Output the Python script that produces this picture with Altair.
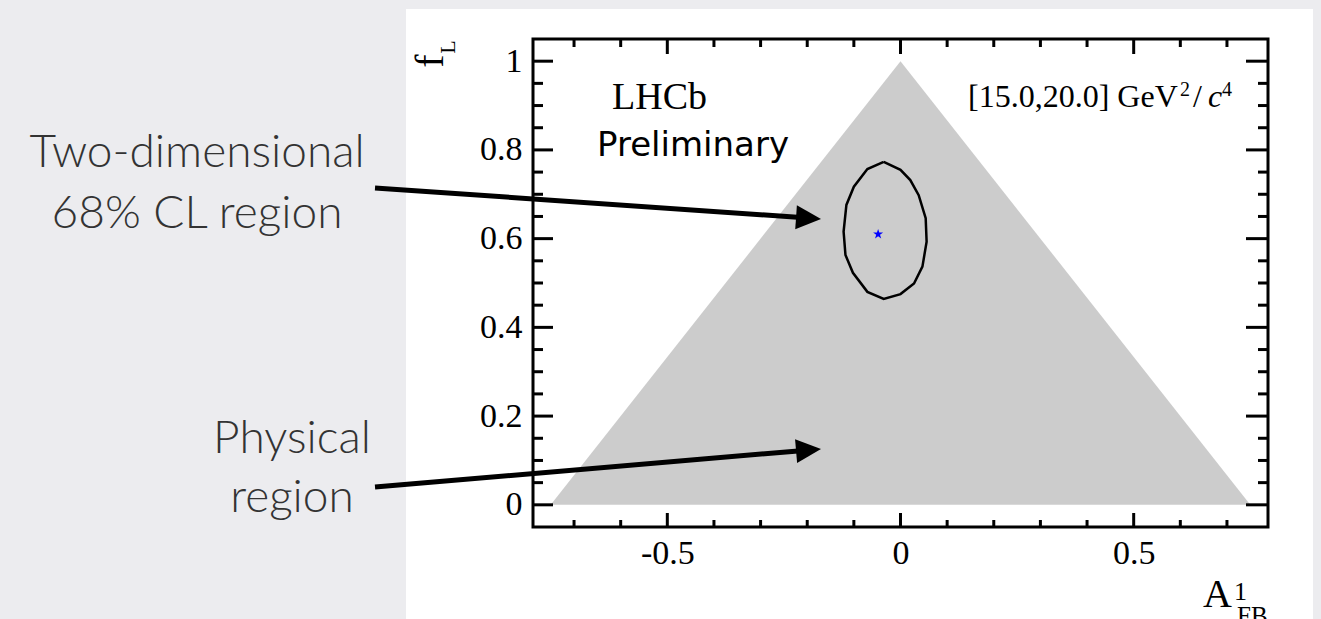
import altair as alt
import pandas as pd

# ---------------- data ----------------
physical_x = [-0.75, 0.0, 0.75]
physical_y = [0.0, 1.0, 0.0]

cl68_x = [-0.036, -0.071, -0.100, -0.116, -0.122, -0.118, -0.102, -0.071, -0.036,
          0.000, 0.029, 0.047, 0.056, 0.054, 0.039, 0.021, 0.000, -0.036]
cl68_y = [0.773, 0.757, 0.717, 0.676, 0.616, 0.563, 0.523, 0.480, 0.464,
          0.475, 0.499, 0.537, 0.593, 0.646, 0.698, 0.732, 0.755, 0.773]

best_x = [-0.048]
best_y = [0.610]

x_labels = [-0.5, 0, 0.5]
x_minor = [-0.7, -0.6, -0.4, -0.3, -0.2, -0.1, 0.1, 0.2, 0.3, 0.4, 0.6, 0.7]
y_labels = [0, 0.2, 0.4, 0.6, 0.8, 1]
y_minor = [0.05, 0.1, 0.15, 0.25, 0.3, 0.35, 0.45, 0.5, 0.55, 0.65, 0.7, 0.75,
           0.85, 0.9, 0.95]

# ---------------- layout ----------------
W, H = 735, 488
SERIF = "Liberation Serif"
SLIDE = "Lato"

x_scale = alt.Scale(domain=[-0.788, 0.788], nice=False, zero=False)
y_scale = alt.Scale(domain=[-0.05, 1.05], nice=False, zero=False)

xaxis = alt.Axis(values=x_labels, labelExpr="'' + datum.value", title=None, ticks=False,
                 domain=False, grid=False, labelFont=SERIF, labelFontSize=34,
                 labelColor="black", labelPadding=9, zindex=2, labelFlush=False,
                 labelOverlap=False)
yaxis = alt.Axis(values=y_labels, labelExpr="'' + datum.value", title=None, ticks=False,
                 domain=False, grid=False, labelFont=SERIF, labelFontSize=34,
                 labelColor="black", labelPadding=11, zindex=2, labelFlush=False,
                 labelOverlap=False)

X = lambda f: alt.X(f, type="quantitative", scale=x_scale, axis=xaxis)
Y = lambda f: alt.Y(f, type="quantitative", scale=y_scale, axis=yaxis)

one = pd.DataFrame({"k": [0]})

phys_df = pd.DataFrame({"x": physical_x, "y": physical_y})
cl_df = pd.DataFrame({"x": cl68_x, "y": cl68_y, "i": list(range(len(cl68_x)))})
best_df = pd.DataFrame({"x": best_x, "y": best_y})

layers = []

# white slide panel behind the figure
layers.append(alt.Chart(one).mark_rect(color="white").encode(
    x=alt.value(-127), x2=alt.value(780), y=alt.value(-30), y2=alt.value(620)))

# physical region
layers.append(alt.Chart(phys_df).mark_area(color="#cccccc", opacity=1).encode(
    x=X("x"), y=Y("y"), y2=alt.datum(0)))

# 68% CL contour
layers.append(alt.Chart(cl_df).mark_line(color="black", strokeWidth=2.5).encode(
    x=X("x"), y=Y("y"), order=alt.Order("i:Q")))

STAR = ("M0,-1 L0.2245,-0.309 L0.951,-0.309 L0.363,0.118 L0.588,0.809 L0,0.382 "
        "L-0.588,0.809 L-0.363,0.118 L-0.951,-0.309 L-0.2245,-0.309 Z")
layers.append(alt.Chart(best_df).mark_point(shape=STAR, filled=True, color="blue",
                                            size=110, opacity=1, strokeWidth=0).encode(
    x=X("x"), y=Y("y")))

# frame
layers.append(alt.Chart(one).mark_rect(fillOpacity=0, stroke="black", strokeWidth=3).encode(
    x=alt.value(0), x2=alt.value(W), y=alt.value(0), y2=alt.value(H)))

# ticks (inward, mirrored)
def xticks(vals, ln_b, ln_t):
    df = pd.DataFrame({"v": vals})
    b = alt.Chart(df).mark_rule(color="black", strokeWidth=3).encode(
        x=X("v"), y=alt.value(H), y2=alt.value(H - ln_b))
    t = alt.Chart(df).mark_rule(color="black", strokeWidth=3).encode(
        x=X("v"), y=alt.value(0), y2=alt.value(ln_t))
    return [b, t]

def yticks(vals, ln_l, ln_r):
    df = pd.DataFrame({"v": vals})
    l = alt.Chart(df).mark_rule(color="black", strokeWidth=3).encode(
        y=Y("v"), x=alt.value(0), x2=alt.value(ln_l))
    r = alt.Chart(df).mark_rule(color="black", strokeWidth=3).encode(
        y=Y("v"), x=alt.value(W), x2=alt.value(W - ln_r))
    return [l, r]

layers += xticks(x_labels, 14, 15)
layers += xticks(x_minor, 7, 8)
layers += yticks(y_labels, 20, 22)
layers += yticks(y_minor, 10, 10)


def txt(s, x, y, size, font, align="left", angle=0, style="normal", weight="normal",
        color="black"):
    return alt.Chart(one).mark_text(text=s, fontSize=size, font=font, align=align,
                                    baseline="alphabetic", angle=angle, fontStyle=style,
                                    fontWeight=weight, color=color).encode(
        x=alt.value(x), y=alt.value(y))

# in-plot labels
layers.append(txt("LHCb", 79, 70, 38, SERIF))
layers.append(txt("Preliminary", 64, 117, 34, "DejaVu Sans"))
layers.append(txt("[15.0,20.0] GeV", 435, 68, 32, SERIF))
layers.append(txt("2", 647, 57, 20, SERIF))
layers.append(txt("/", 660, 68, 32, SERIF))
layers.append(txt("c", 675, 68, 32, SERIF, style="italic"))
layers.append(txt("4", 689, 57, 20, SERIF))

# axis titles
layers.append(txt("f", -90, 22, 40, SERIF, align="center", angle=270))
layers.append(txt("L", -78, 8, 22, SERIF, align="center", angle=270))
layers.append(txt("A", 670, 568, 40, SERIF))
layers.append(txt("1", 701, 561, 26, SERIF))
layers.append(txt("FB", 704, 585, 25, SERIF))

# slide annotations
SC = "#333333"
layers.append(txt("Two-dimensional", -336, 128, 46, SLIDE, align="center", weight=300, color=SC))
layers.append(txt("68% CL region", -336, 189, 46, SLIDE, align="center", weight=300, color=SC))
layers.append(txt("Physical", -241, 414, 46, SLIDE, align="center", weight=300, color=SC))
layers.append(txt("region", -241, 473, 46, SLIDE, align="center", weight=300, color=SC))

HEAD = "M0,0 L-2,-0.96 L-2,0.96 Z"
layers.append(alt.Chart(one).mark_rule(color="black", strokeWidth=5).encode(
    x=alt.value(-158), y=alt.value(149), x2=alt.value(268), y2=alt.value(178.5)))
layers.append(alt.Chart(one).mark_point(shape=HEAD, filled=True, color="black", size=625,
                                        angle=4, opacity=1, strokeWidth=0).encode(
    x=alt.value(288), y=alt.value(180)))
layers.append(alt.Chart(one).mark_rule(color="black", strokeWidth=5).encode(
    x=alt.value(-158), y=alt.value(448), x2=alt.value(268), y2=alt.value(411.7)))
layers.append(alt.Chart(one).mark_point(shape=HEAD, filled=True, color="black", size=625,
                                        angle=355.1, opacity=1, strokeWidth=0).encode(
    x=alt.value(288), y=alt.value(410)))

chart = alt.layer(*layers).properties(
    width=W, height=H,
    padding={"left": 533, "top": 39, "right": 53, "bottom": 92},
    autosize=alt.AutoSizeParams(type="none"),
).configure(background="#ececef").configure_view(stroke=None)

chart.save("out.html", embed_options={"renderer": "svg", "actions": False})
